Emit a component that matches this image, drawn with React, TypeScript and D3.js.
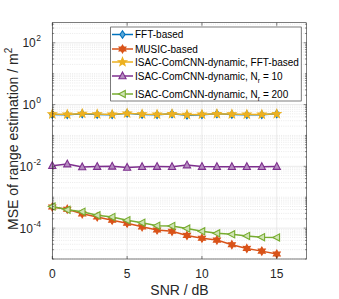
import React from "react";
import * as d3 from "d3";

const snr = [0, 1, 2, 3, 4, 5, 6, 7, 8, 9, 10, 11, 12, 13, 14, 15];
const fftBased = [0.48, 0.47, 0.5, 0.48, 0.47, 0.52, 0.48, 0.47, 0.5, 0.45, 0.47, 0.5, 0.48, 0.47, 0.47, 0.5];
const musicBased = [4.8e-4, 4.1e-4, 2.9e-4, 2.3e-4, 1.8e-4, 1.44e-4, 1.1e-4, 8.7e-5, 7.9e-5, 5.8e-5, 4.7e-5, 4.1e-5, 2.9e-5, 2.2e-5, 1.8e-5, 1.45e-5];
const isacFft = [0.49, 0.48, 0.51, 0.49, 0.48, 0.52, 0.49, 0.48, 0.5, 0.47, 0.48, 0.5, 0.49, 0.48, 0.48, 0.5];
const isacNr10 = [0.0105, 0.0118, 0.0095, 0.0098, 0.0100, 0.0092, 0.0097, 0.0098, 0.0097, 0.0110, 0.0098, 0.0097, 0.0097, 0.0097, 0.0097, 0.0098];
const isacNr200 = [5.0e-4, 3.9e-4, 3.4e-4, 2.6e-4, 2.3e-4, 1.8e-4, 1.5e-4, 1.2e-4, 1.18e-4, 9.7e-5, 7.9e-5, 6.8e-5, 6.3e-5, 5.6e-5, 5.1e-5, 5.0e-5];
const xTicks = [0, 5, 10, 15];
const yTickExps = [-4, -2, 0, 2];

const W = 339, H = 299;
const L = 52.3, R = 306.7, T = 22.7, B = 259;
const axisColor = "#262626";

function starPath(n: number, rOut: number, rIn: number, rot = -Math.PI / 2) {
  const pts: string[] = [];
  for (let i = 0; i < 2 * n; i++) {
    const r = i % 2 === 0 ? rOut : rIn;
    const a = rot + (i * Math.PI) / n;
    pts.push(`${(r * Math.cos(a)).toFixed(2)},${(r * Math.sin(a)).toFixed(2)}`);
  }
  return "M" + pts.join("L") + "Z";
}
const diamondPath = "M0,-3.8L2.6,0L0,3.8L-2.6,0Z";
const hexPath = starPath(6, 4, 2.3);
const pentPath = starPath(5, 4.4, 1.9);
const triUpPath = "M0,-4L3.6,2.8L-3.6,2.8Z";
const triLeftPath = "M-4,0L2.8,-3.6L2.8,3.6Z";

const series = [
  { name: "FFT-based", data: fftBased, color: "#0072BD", marker: diamondPath, fill: "#5aa7d8", sub: null as string | null, tail: "" },
  { name: "MUSIC-based", data: musicBased, color: "#D95319", marker: hexPath, fill: "#D95319", sub: null, tail: "" },
  { name: "ISAC-ComCNN-dynamic, FFT-based", data: isacFft, color: "#EDB120", marker: pentPath, fill: "#EDB120", sub: null, tail: "" },
  { name: "ISAC-ComCNN-dynamic, N", data: isacNr10, color: "#7E2F8E", marker: triUpPath, fill: "#b58cc0", sub: "r", tail: " = 10" },
  { name: "ISAC-ComCNN-dynamic, N", data: isacNr200, color: "#77AC30", marker: triLeftPath, fill: "#cfe3b3", sub: "r", tail: " = 200" },
];

export default function App() {
  const x = d3.scaleLinear().domain([0, 17]).range([L, R]);
  const y = d3.scaleLog().domain([1e-5, Math.pow(10, 2.65)]).range([B, T]);
  const line = d3.line<number>().x((_, i) => x(snr[i])).y((d) => y(d));

  const minorVals: number[] = [];
  for (let e = -5; e <= 2; e++) {
    for (let m = 1; m <= 9; m++) {
      const v = m * Math.pow(10, e);
      if (v >= 1e-5 && v <= Math.pow(10, 2.65) && !(m === 1 && e % 2 === 0)) minorVals.push(v);
    }
  }

  const legendRows = [34.5, 49, 62, 76, 94];
  const font = "'Liberation Sans', Arial, Helvetica, sans-serif";

  return (
    <svg width={W} height={H} style={{ position: "absolute", left: 0, top: 0, background: "#fff" }} fontFamily={font}>
      <rect x={0} y={0} width={W} height={H} fill="#fff" />
      {minorVals.map((v, i) => (
        <line key={"mg" + i} x1={L} x2={R} y1={y(v)} y2={y(v)} stroke="#d4d4d4" strokeWidth={0.5} strokeDasharray="1,1.2" />
      ))}
      {yTickExps.map((e) => (
        <line key={"yg" + e} x1={L} x2={R} y1={y(Math.pow(10, e))} y2={y(Math.pow(10, e))} stroke="#dedede" strokeWidth={0.6} />
      ))}
      {xTicks.map((t) => (
        <line key={"xg" + t} x1={x(t)} x2={x(t)} y1={T} y2={B} stroke="#dedede" strokeWidth={0.6} />
      ))}
      {series.map((s, si) => (
        <g key={"s" + si}>
          <path d={line(s.data) || ""} fill="none" stroke={s.color} strokeWidth={1.5} />
          {s.data.map((d, i) => (
            <path key={i} d={s.marker} transform={`translate(${x(snr[i])},${y(d)})`} fill={s.fill} stroke={s.color} strokeWidth={1.1} />
          ))}
        </g>
      ))}
      <rect x={L} y={T} width={R - L} height={B - T} fill="none" stroke={axisColor} strokeWidth={0.6} />
      {xTicks.map((t) => (
        <g key={"xt" + t}>
          <line x1={x(t)} x2={x(t)} y1={B} y2={B - 3} stroke={axisColor} strokeWidth={0.6} />
          <line x1={x(t)} x2={x(t)} y1={T} y2={T + 3} stroke={axisColor} strokeWidth={0.6} />
          <text x={x(t)} y={277.5} textAnchor="middle" fontSize={12} fill={axisColor}>{t}</text>
        </g>
      ))}
      {minorVals.concat(yTickExps.map((e) => Math.pow(10, e))).map((v, i) => {
        const major = yTickExps.some((e) => Math.abs(Math.pow(10, e) - v) < v * 1e-6);
        const len = major ? 3 : 1.8;
        return (
          <g key={"ytm" + i}>
            <line x1={L} x2={L + len} y1={y(v)} y2={y(v)} stroke={axisColor} strokeWidth={0.5} />
            <line x1={R} x2={R - len} y1={y(v)} y2={y(v)} stroke={axisColor} strokeWidth={0.5} />
          </g>
        );
      })}
      {yTickExps.map((e) => (
        <text key={"yl" + e} x={41} y={y(Math.pow(10, e)) + 4.5} textAnchor="end" fontSize={12} fill={axisColor}>
          10
          <tspan dx={0.5} dy={-6} fontSize={8.5}>{e}</tspan>
        </text>
      ))}
      <text x={(L + R) / 2} y={294.5} textAnchor="middle" fontSize={14} fill={axisColor}>SNR / dB</text>
      <text transform={`translate(18,${(T + B) / 2 - 2}) rotate(-90)`} textAnchor="middle" fontSize={14} fill={axisColor}>
        MSE of range estimation / m
        <tspan dy={-6} fontSize={10}>2</tspan>
      </text>
      <rect x={110.7} y={27} width={190.5} height={74} fill="#fff" stroke={axisColor} strokeWidth={0.6} />
      {series.map((s, i) => {
        const ly = legendRows[i];
        return (
          <g key={"lg" + i}>
            <line x1={112} x2={133} y1={ly} y2={ly} stroke={s.color} strokeWidth={1.5} />
            <path d={s.marker} transform={`translate(122.5,${ly})`} fill={s.fill} stroke={s.color} strokeWidth={1.1} />
            <text x={135} y={ly + 3.7} fontSize={10} fill="#000">
              {s.name}
              {s.sub && <tspan dy={3} fontSize={7}>{s.sub}</tspan>}
              {s.sub && <tspan dy={-3}>{s.tail}</tspan>}
            </text>
          </g>
        );
      })}
    </svg>
  );
}
